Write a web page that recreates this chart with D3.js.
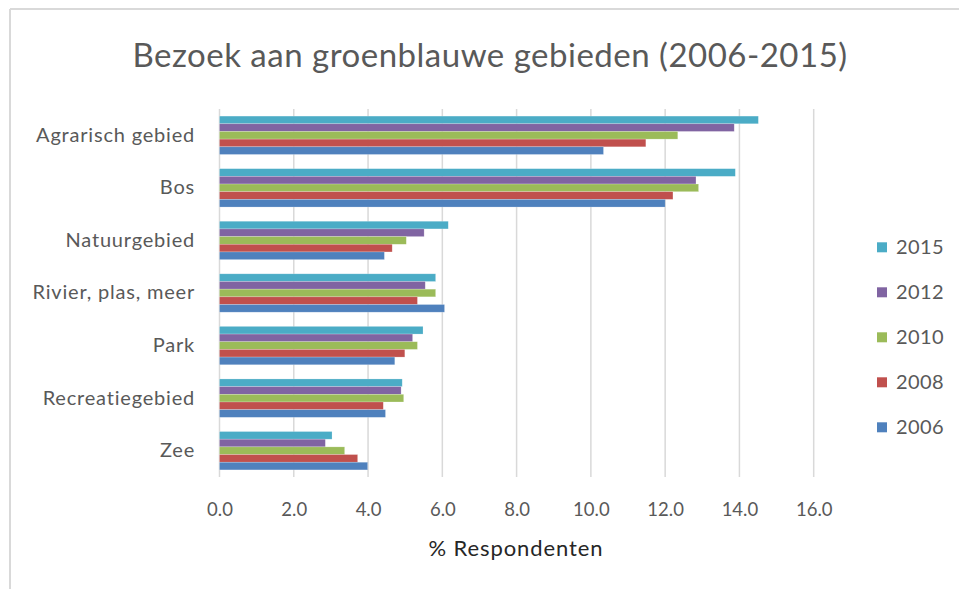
<!DOCTYPE html>
<html><head><meta charset="utf-8">
<script src="https://cdnjs.cloudflare.com/ajax/libs/d3/7.8.5/d3.min.js"></script>
<style>
body{margin:0;background:#fff;}
svg{display:block;font-family:Lato,"Open Sans",sans-serif;}
</style></head>
<body>
<svg id="chart" width="959" height="589"></svg>
<script>
const categories = ["Agrarisch gebied","Bos","Natuurgebied","Rivier, plas, meer","Park","Recreatiegebied","Zee"];
const seriesNames = ["2015","2012","2010","2008","2006"];
const v2015 = [14.51,13.89,6.16,5.82,5.48,4.92,3.03];
const v2012 = [13.86,12.83,5.51,5.54,5.20,4.89,2.85];
const v2010 = [12.34,12.90,5.03,5.82,5.33,4.96,3.37];
const v2008 = [11.48,12.21,4.65,5.33,4.99,4.41,3.72];
const v2006 = [10.34,12.00,4.44,6.06,4.72,4.47,3.99];
const xTicks = [0,2,4,6,8,10,12,14,16];
const colors = ["#4bacc6","#8064a2","#9bbb59","#c0504d","#4f81bd"];
const seriesValues = [v2015,v2012,v2010,v2008,v2006];

const svg = d3.select("#chart");
// chart border
svg.append("line").attr("x1",10).attr("x2",959).attr("y1",9).attr("y2",9).attr("stroke","#d9d9d9").attr("stroke-width",2);
svg.append("line").attr("x1",10).attr("x2",10).attr("y1",9).attr("y2",589).attr("stroke","#d9d9d9").attr("stroke-width",2);

const x = d3.scaleLinear().domain([0,16]).range([219.5,813.7]);
const y = d3.scaleBand().domain(categories).range([109,477]).paddingInner(0.27).paddingOuter(0.135);
const y1 = d3.scaleBand().domain(seriesNames).range([0,y.bandwidth()]);

// gridlines
svg.append("g").selectAll("line").data(xTicks).join("line")
  .attr("x1",d=>x(d)).attr("x2",d=>x(d)).attr("y1",109).attr("y2",477)
  .attr("stroke","#d9d9d9").attr("stroke-width",1.5);

// bars
const g = svg.append("g");
categories.forEach((c,i)=>{
  seriesNames.forEach((s,j)=>{
    g.append("rect")
      .attr("x",x(0)).attr("y",y(c)+y1(s))
      .attr("width",x(seriesValues[j][i])-x(0)).attr("height",y1.bandwidth())
      .attr("fill",colors[j]).attr("stroke","#ffffff").attr("stroke-opacity",0.35).attr("stroke-width",0.6);
  });
});

// x axis labels
const xAxis = d3.axisBottom(x).tickValues(xTicks).tickFormat(d3.format(".1f")).tickSize(0).tickPadding(0);
const ax = svg.append("g").attr("transform","translate(0,502)").call(xAxis);
ax.select(".domain").remove();
ax.selectAll("text").attr("font-size",18.5).attr("fill","#595959").attr("font-family","Lato,'Open Sans',sans-serif").attr("dy","0.75em");

// y axis labels
const yAxis = d3.axisLeft(y).tickSize(0).tickPadding(0);
const ay = svg.append("g").attr("transform","translate(195,0)").call(yAxis);
ay.select(".domain").remove();
ay.selectAll("text").attr("font-size",20).attr("letter-spacing","0.8px").attr("fill","#595959").attr("font-family","Lato,'Open Sans',sans-serif");

// title
svg.append("text").attr("x",490).attr("y",67).attr("text-anchor","middle")
  .attr("font-size",33).attr("letter-spacing","0.5px").attr("fill","#595959").text("Bezoek aan groenblauwe gebieden (2006-2015)");

// axis title
svg.append("text").attr("x",516).attr("y",556).attr("text-anchor","middle")
  .attr("font-size",22).attr("letter-spacing","0.9px").attr("fill","#262626").text("% Respondenten");

// legend
const leg = svg.append("g");
seriesNames.forEach((s,j)=>{
  const cy = 247.3 + j*45;
  leg.append("rect").attr("x",877).attr("y",cy-5).attr("width",10).attr("height",10).attr("fill",colors[j]);
  leg.append("text").attr("x",896).attr("y",cy).attr("dy","0.35em").attr("font-size",20).attr("letter-spacing","0.4px").attr("fill","#595959").text(s);
});
</script>
</body></html>
